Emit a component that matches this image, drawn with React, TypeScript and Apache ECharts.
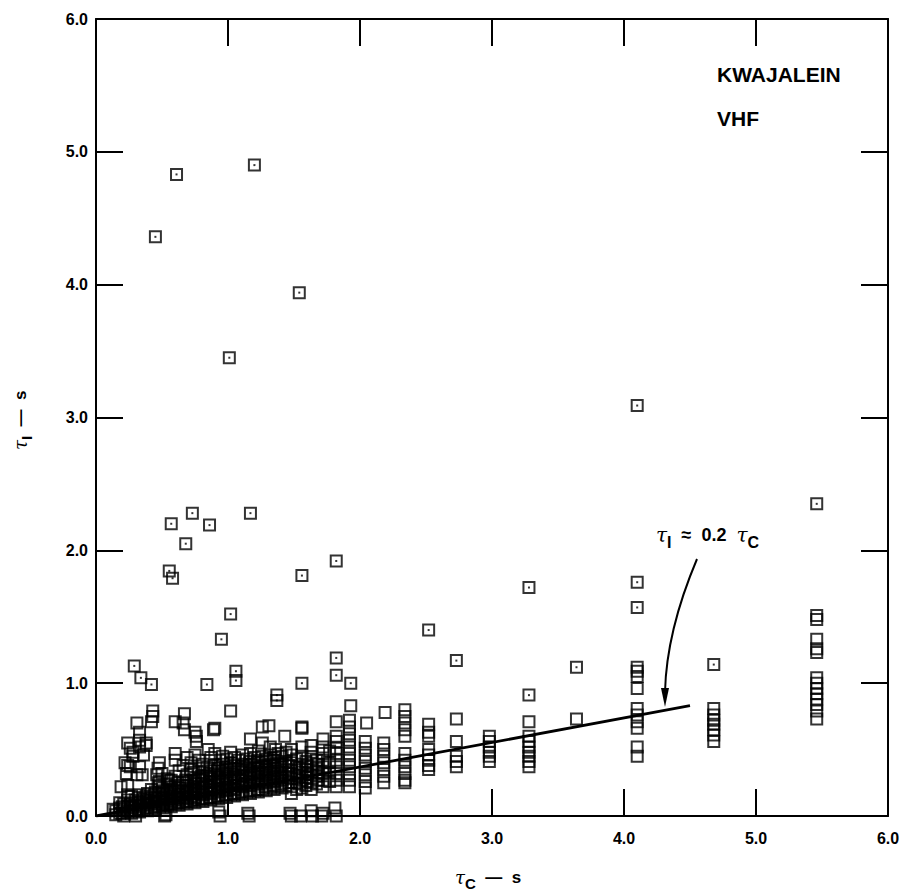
import React, { useEffect, useRef } from "react";
import * as echarts from "echarts";

const xTicks = [0, 1, 2, 3, 4, 5, 6];
const yTicks = [0, 1, 2, 3, 4, 5, 6];

// isolated squares (drawn with a centre dot)
const upperPoints: number[][] = [
  [0.61, 4.83], [1.2, 4.9], [0.45, 4.36], [1.54, 3.94], [1.01, 3.45], [4.1, 3.09], [5.46, 2.35],
  [0.73, 2.28], [0.57, 2.2], [0.86, 2.19], [1.17, 2.28], [0.68, 2.05], [1.82, 1.92], [0.555, 1.845],
  [0.58, 1.79], [1.56, 1.81], [1.02, 1.52], [0.95, 1.33], [2.52, 1.4], [3.28, 1.72], [4.1, 1.76],
  [4.1, 1.57], [2.73, 1.17], [3.64, 1.12], [4.68, 1.14], [1.82, 1.19], [1.82, 1.06], [1.06, 1.09],
  [1.06, 1.02], [0.29, 1.13], [0.34, 1.04], [0.42, 0.99], [0.84, 0.99], [1.56, 1.0], [1.93, 1.0],
  [1.37, 0.91], [1.37, 0.87], [3.28, 0.91],
];

// scattered squares between 0.2 and 0.85
const midPoints: number[][] = [
  [0.43, 0.79], [0.43, 0.75], [0.42, 0.71], [0.67, 0.77], [0.89, 0.65], [0.6, 0.71], [0.66, 0.7],
  [0.67, 0.65], [0.75, 0.63], [0.76, 0.6], [0.76, 0.56], [0.31, 0.7], [0.33, 0.63], [0.33, 0.57],
  [0.24, 0.55], [0.26, 0.51], [0.38, 0.55], [0.36, 0.46], [0.28, 0.45], [0.24, 0.38], [0.31, 0.31],
  [0.19, 0.22], [0.24, 0.23], [0.24, 0.16], [0.48, 0.4], [0.47, 0.36], [0.46, 0.31], [0.47, 0.25],
  [0.54, 0.28], [0.6, 0.47], [0.6, 0.42], [0.85, 0.5], [0.94, 0.42], [1.02, 0.79], [1.26, 0.67],
  [1.31, 0.68], [1.56, 0.67], [1.17, 0.58], [1.26, 0.55], [1.43, 0.6], [1.36, 0.5], [0.9, 0.66],
  [1.93, 0.83], [2.19, 0.78], [2.05, 0.7], [1.56, 0.66], [1.82, 0.71], [0.33, 0.52], [0.38, 0.53],
  [0.28, 0.48], [0.22, 0.4], [0.26, 0.37], [0.23, 0.32], [0.33, 0.37], [0.35, 0.31], [0.5, 0.32],
  [0.48, 0.26], [0.55, 0.27],
];

// stacked columns of squares at the larger tau_C values
const columnPoints: number[][] = [
  [1.82, 0.22], [1.82, 0.27], [1.82, 0.32], [1.82, 0.37], [1.82, 0.42], [1.82, 0.47], [1.82, 0.51], [1.82, 0.56], [1.82, 0.6],
  [1.92, 0.22], [1.92, 0.27], [1.92, 0.32], [1.92, 0.37], [1.92, 0.42], [1.92, 0.47], [1.92, 0.52], [1.92, 0.57], [1.92, 0.62], [1.92, 0.67], [1.92, 0.72],
  [2.04, 0.21], [2.04, 0.26], [2.04, 0.31], [2.04, 0.36], [2.04, 0.41], [2.04, 0.46], [2.04, 0.51], [2.04, 0.56],
  [2.18, 0.25], [2.18, 0.3], [2.18, 0.35], [2.18, 0.4], [2.18, 0.45], [2.18, 0.5], [2.18, 0.55],
  [2.34, 0.8], [2.34, 0.75], [2.34, 0.7], [2.34, 0.65], [2.34, 0.6], [2.34, 0.47], [2.34, 0.42], [2.34, 0.37], [2.34, 0.32], [2.34, 0.27], [2.34, 0.25],
  [2.52, 0.69], [2.52, 0.63], [2.52, 0.6], [2.52, 0.5], [2.52, 0.46], [2.52, 0.42], [2.52, 0.38], [2.52, 0.35],
  [2.73, 0.73], [2.73, 0.56], [2.73, 0.45], [2.73, 0.41], [2.73, 0.37],
  [2.98, 0.6], [2.98, 0.56], [2.98, 0.52], [2.98, 0.48], [2.98, 0.45], [2.98, 0.41],
  [3.28, 0.71], [3.28, 0.6], [3.28, 0.56], [3.28, 0.52], [3.28, 0.48], [3.28, 0.45], [3.28, 0.41], [3.28, 0.37],
  [3.64, 0.73],
  [4.1, 1.12], [4.1, 1.09], [4.1, 1.05], [4.1, 0.96], [4.1, 0.81], [4.1, 0.76], [4.1, 0.71], [4.1, 0.66], [4.1, 0.52], [4.1, 0.45],
  [4.68, 0.81], [4.68, 0.76], [4.68, 0.72], [4.68, 0.69], [4.68, 0.65], [4.68, 0.61], [4.68, 0.56],
  [5.46, 1.51], [5.46, 1.48], [5.46, 1.33], [5.46, 1.26], [5.46, 1.23], [5.46, 1.04], [5.46, 1.0], [5.46, 0.96],
  [5.46, 0.92], [5.46, 0.88], [5.46, 0.84], [5.46, 0.79], [5.46, 0.73],
];

// squares lying on the tau_I = 0 line
const bottomPoints: number[][] = [
  [0.3, 0.0], [0.52, 0.0], [0.53, 0.01], [0.94, 0.0], [0.93, 0.03], [1.15, 0.02], [1.16, 0.0],
  [1.47, 0.02], [1.48, 0.0], [1.55, 0.0], [1.63, 0.04], [1.64, 0.0], [1.72, 0.02], [1.71, 0.0],
  [1.81, 0.06], [1.82, 0.0],
];

// the crowded wedge of squares near the origin
const densePoints: number[][] = [
  [0.13, 0.05], [0.15, 0.01], [0.15, 0.04], [0.18, 0.02], [0.18, 0.06], [0.18, 0.1], [0.21, 0.0], [0.21, 0.05], [0.21, 0.09],
  [0.24, 0.03], [0.24, 0.07], [0.24, 0.12], [0.27, 0.02], [0.27, 0.06], [0.27, 0.1], [0.27, 0.15],
  [0.3, 0.04], [0.3, 0.08], [0.3, 0.12], [0.33, 0.03], [0.33, 0.07], [0.33, 0.11], [0.33, 0.16],
  [0.36, 0.05], [0.36, 0.09], [0.36, 0.13], [0.39, 0.04], [0.39, 0.08], [0.39, 0.12], [0.39, 0.17],
  [0.42, 0.06], [0.42, 0.1], [0.42, 0.14], [0.42, 0.2], [0.45, 0.05], [0.45, 0.09], [0.45, 0.13], [0.45, 0.18],
  [0.48, 0.07], [0.48, 0.11], [0.48, 0.15], [0.48, 0.22], [0.51, 0.06], [0.51, 0.1], [0.51, 0.14], [0.51, 0.19],
  [0.54, 0.08], [0.54, 0.12], [0.54, 0.17], [0.54, 0.24], [0.57, 0.07], [0.57, 0.11], [0.57, 0.15], [0.57, 0.2], [0.57, 0.27],
  [0.6, 0.09], [0.6, 0.13], [0.6, 0.18], [0.6, 0.23], [0.6, 0.3], [0.63, 0.08], [0.63, 0.12], [0.63, 0.16], [0.63, 0.21], [0.63, 0.34],
  [0.66, 0.1], [0.66, 0.14], [0.66, 0.19], [0.66, 0.25], [0.66, 0.38], [0.69, 0.09], [0.69, 0.13], [0.69, 0.18], [0.69, 0.23], [0.69, 0.31], [0.69, 0.44],
  [0.72, 0.11], [0.72, 0.15], [0.72, 0.2], [0.72, 0.26], [0.72, 0.35], [0.72, 0.4], [0.75, 0.1], [0.75, 0.14], [0.75, 0.19], [0.75, 0.24], [0.75, 0.29], [0.75, 0.46],
  [0.78, 0.12], [0.78, 0.17], [0.78, 0.22], [0.78, 0.28], [0.78, 0.36], [0.78, 0.42], [0.81, 0.11], [0.81, 0.16], [0.81, 0.21], [0.81, 0.27], [0.81, 0.33], [0.81, 0.39],
  [0.84, 0.13], [0.84, 0.18], [0.84, 0.23], [0.84, 0.3], [0.84, 0.37], [0.87, 0.12], [0.87, 0.17], [0.87, 0.22], [0.87, 0.28], [0.87, 0.34], [0.87, 0.44],
  [0.9, 0.14], [0.9, 0.19], [0.9, 0.25], [0.9, 0.31], [0.9, 0.38], [0.9, 0.47], [0.93, 0.13], [0.93, 0.18], [0.93, 0.24], [0.93, 0.29], [0.93, 0.36],
  [0.96, 0.15], [0.96, 0.2], [0.96, 0.26], [0.96, 0.32], [0.96, 0.39], [0.96, 0.45], [0.99, 0.14], [0.99, 0.19], [0.99, 0.25], [0.99, 0.3], [0.99, 0.37], [0.99, 0.43],
  [1.02, 0.16], [1.02, 0.21], [1.02, 0.27], [1.02, 0.33], [1.02, 0.4], [1.02, 0.48], [1.05, 0.15], [1.05, 0.2], [1.05, 0.26], [1.05, 0.31], [1.05, 0.38], [1.05, 0.44],
  [1.08, 0.17], [1.08, 0.23], [1.08, 0.28], [1.08, 0.35], [1.08, 0.42], [1.11, 0.16], [1.11, 0.22], [1.11, 0.27], [1.11, 0.33], [1.11, 0.39], [1.11, 0.46],
  [1.14, 0.18], [1.14, 0.24], [1.14, 0.3], [1.14, 0.36], [1.14, 0.43], [1.17, 0.17], [1.17, 0.23], [1.17, 0.29], [1.17, 0.34], [1.17, 0.41], [1.17, 0.47],
  [1.2, 0.19], [1.2, 0.25], [1.2, 0.31], [1.2, 0.37], [1.2, 0.44], [1.23, 0.18], [1.23, 0.24], [1.23, 0.3], [1.23, 0.36], [1.23, 0.42], [1.23, 0.49],
  [1.26, 0.2], [1.26, 0.26], [1.26, 0.32], [1.26, 0.38], [1.26, 0.45], [1.29, 0.19], [1.29, 0.25], [1.29, 0.31], [1.29, 0.37], [1.29, 0.43],
  [1.32, 0.21], [1.32, 0.27], [1.32, 0.33], [1.32, 0.39], [1.32, 0.46], [1.32, 0.52], [1.35, 0.2], [1.35, 0.26], [1.35, 0.32], [1.35, 0.38], [1.35, 0.44],
  [1.38, 0.22], [1.38, 0.28], [1.38, 0.34], [1.38, 0.4], [1.38, 0.47], [1.41, 0.21], [1.41, 0.27], [1.41, 0.33], [1.41, 0.39], [1.41, 0.45],
  [1.44, 0.23], [1.44, 0.29], [1.44, 0.35], [1.44, 0.41], [1.44, 0.48],
  [1.48, 0.17], [1.48, 0.22], [1.48, 0.28], [1.48, 0.34], [1.48, 0.4], [1.48, 0.46], [1.48, 0.5],
  [1.52, 0.2], [1.52, 0.25], [1.52, 0.31], [1.52, 0.37], [1.52, 0.43], [1.56, 0.21], [1.56, 0.27], [1.56, 0.33], [1.56, 0.39], [1.56, 0.45], [1.56, 0.52],
  [1.59, 0.23], [1.59, 0.29], [1.59, 0.35], [1.59, 0.41],
  [1.63, 0.2], [1.63, 0.25], [1.63, 0.31], [1.63, 0.37], [1.63, 0.43], [1.63, 0.48], [1.63, 0.53],
  [1.67, 0.24], [1.67, 0.3], [1.67, 0.36], [1.67, 0.42],
  [1.72, 0.22], [1.72, 0.27], [1.72, 0.32], [1.72, 0.37], [1.72, 0.42], [1.72, 0.47], [1.72, 0.52], [1.72, 0.58],
  [1.77, 0.26], [1.77, 0.33], [1.77, 0.4], [1.77, 0.49],
];

// further squares packed into the wedge, between the ones above
const wedgePoints: number[][] = [
  [0.2, 0.02], [0.2, 0.07], [0.26, 0.04], [0.26, 0.09], [0.32, 0.05], [0.32, 0.1], [0.32, 0.14],
  [0.38, 0.06], [0.38, 0.1], [0.38, 0.15], [0.44, 0.07], [0.44, 0.11], [0.44, 0.16],
  [0.5, 0.08], [0.5, 0.12], [0.5, 0.17], [0.5, 0.21], [0.56, 0.09], [0.56, 0.13], [0.56, 0.18], [0.56, 0.22],
  [0.62, 0.1], [0.62, 0.14], [0.62, 0.19], [0.62, 0.25], [0.68, 0.11], [0.68, 0.16], [0.68, 0.21], [0.68, 0.27],
  [0.74, 0.12], [0.74, 0.17], [0.74, 0.22], [0.74, 0.27], [0.74, 0.33], [0.8, 0.13], [0.8, 0.18], [0.8, 0.24], [0.8, 0.3],
  [0.86, 0.14], [0.86, 0.2], [0.86, 0.26], [0.86, 0.32], [0.92, 0.15], [0.92, 0.21], [0.92, 0.27], [0.92, 0.34],
  [0.98, 0.16], [0.98, 0.22], [0.98, 0.28], [0.98, 0.35], [1.04, 0.17], [1.04, 0.23], [1.04, 0.29], [1.04, 0.36],
  [1.1, 0.18], [1.1, 0.24], [1.1, 0.3], [1.1, 0.37], [1.16, 0.19], [1.16, 0.26], [1.16, 0.32], [1.16, 0.39],
  [1.22, 0.2], [1.22, 0.27], [1.22, 0.33], [1.22, 0.4], [1.28, 0.22], [1.28, 0.28], [1.28, 0.35], [1.28, 0.41],
  [1.34, 0.23], [1.34, 0.29], [1.34, 0.36], [1.34, 0.42], [1.4, 0.24], [1.4, 0.3], [1.4, 0.37],
  [1.46, 0.25], [1.46, 0.32], [1.46, 0.38], [1.54, 0.24], [1.54, 0.3], [1.54, 0.36],
  [1.6, 0.26], [1.6, 0.32], [1.6, 0.38], [1.68, 0.27], [1.68, 0.33], [1.68, 0.39],
];

// fitted line tau_I = 0.2 tau_C as drawn
const fitLine: number[][] = [[0, 0], [4.5, 0.83]];

const allPoints = [...densePoints, ...wedgePoints, ...bottomPoints, ...columnPoints, ...midPoints, ...upperPoints];

const FONT = "'Liberation Sans', Arial, sans-serif";
const SERIF = "'DejaVu Serif', serif";

export default function App() {
  const ref = useRef<HTMLDivElement>(null);
  useEffect(() => {
    if (!ref.current) return;
    const chart = echarts.init(ref.current, null, { renderer: "svg" });
    const axisLine = { show: true, onZero: false, lineStyle: { color: "#000", width: 2 } };
    const axisTick = { show: true, inside: true, length: 27, lineStyle: { color: "#000", width: 2 } };
    const label = {
      color: "#000",
      fontSize: 16,
      fontWeight: "bold" as const,
      fontFamily: FONT,
      formatter: (v: number) => v.toFixed(1),
    };
    const titleRich = {
      t: { fontFamily: SERIF, fontStyle: "italic", fontSize: 18, fill: "#000" },
      s: { fontFamily: FONT, fontWeight: "bold", fontSize: 15, fill: "#000", padding: [13, 0, 0, 0] },
      m: { fontFamily: FONT, fontWeight: "bold", fontSize: 17, fill: "#000" },
    };
    chart.setOption({
      animation: false,
      backgroundColor: "#fff",
      grid: { left: 96, right: 19, top: 19, bottom: 79 },
      xAxis: [
        {
          type: "value", min: xTicks[0], max: xTicks[xTicks.length - 1], interval: 1, position: "bottom",
          axisLine, axisTick, splitLine: { show: false },
          axisLabel: { ...label, margin: 14 },
        },
        {
          type: "value", min: xTicks[0], max: xTicks[xTicks.length - 1], interval: 1, position: "top",
          axisLine, axisTick, splitLine: { show: false }, axisLabel: { show: false },
        },
      ],
      yAxis: [
        {
          type: "value", min: yTicks[0], max: yTicks[yTicks.length - 1], interval: 1, position: "left",
          axisLine, axisTick, splitLine: { show: false },
          axisLabel: { ...label, margin: 8 },
        },
        {
          type: "value", min: yTicks[0], max: yTicks[yTicks.length - 1], interval: 1, position: "right",
          axisLine, axisTick, splitLine: { show: false }, axisLabel: { show: false },
        },
      ],
      series: [
        {
          type: "scatter",
          data: allPoints,
          symbol: "rect",
          symbolSize: 11,
          itemStyle: { color: "rgba(255,255,255,0)", borderColor: "#000", borderWidth: 2 },
          silent: true,
        },
        {
          type: "scatter",
          data: upperPoints,
          symbol: "rect",
          symbolSize: 2,
          itemStyle: { color: "#000" },
          silent: true,
        },
        {
          type: "line",
          data: fitLine,
          symbol: "none",
          lineStyle: { color: "#000", width: 2.8 },
          silent: true,
        },
      ],
      graphic: [
        {
          type: "text", left: 717, top: 64,
          style: { text: "KWAJALEIN", fill: "#000", font: `bold 21px ${FONT}` },
        },
        {
          type: "text", left: 717, top: 108,
          style: { text: "VHF", fill: "#000", font: `bold 21px ${FONT}` },
        },
        {
          type: "text", left: 656, top: 525,
          style: {
            text: "{t|τ}{s|I}{m|  ≈  0.2  }{t|τ}{s|C}",
            rich: {
              t: { fontFamily: SERIF, fontStyle: "italic", fontSize: 20, fill: "#000" },
              s: { fontFamily: FONT, fontWeight: "bold", fontSize: 16, fill: "#000", padding: [14, 0, 0, 0] },
              m: { fontFamily: FONT, fontWeight: "bold", fontSize: 18, fill: "#000" },
            },
          },
        },
        {
          type: "bezierCurve",
          shape: { x1: 697, y1: 559, cpx1: 678, cpy1: 604, cpx2: 666, cpy2: 650, x2: 665, y2: 692 },
          style: { stroke: "#000", lineWidth: 2, fill: "none" },
        },
        {
          type: "polygon",
          shape: { points: [[661, 688], [669, 688], [665, 707]] },
          style: { fill: "#000" },
        },
        {
          type: "text", left: 455, top: 868,
          style: { text: "{t|τ}{s|C}{m|  —  s}", rich: titleRich },
        },
        {
          type: "text", x: 6, y: 450, rotation: Math.PI / 2,
          style: { text: "{t|τ}{s|I}{m|  —  s}", rich: titleRich },
        },
      ],
    });
    return () => chart.dispose();
  }, []);
  return (
    <div
      ref={ref}
      style={{ position: "fixed", left: 0, top: 0, width: 907, height: 895, background: "#fff" }}
    />
  );
}
